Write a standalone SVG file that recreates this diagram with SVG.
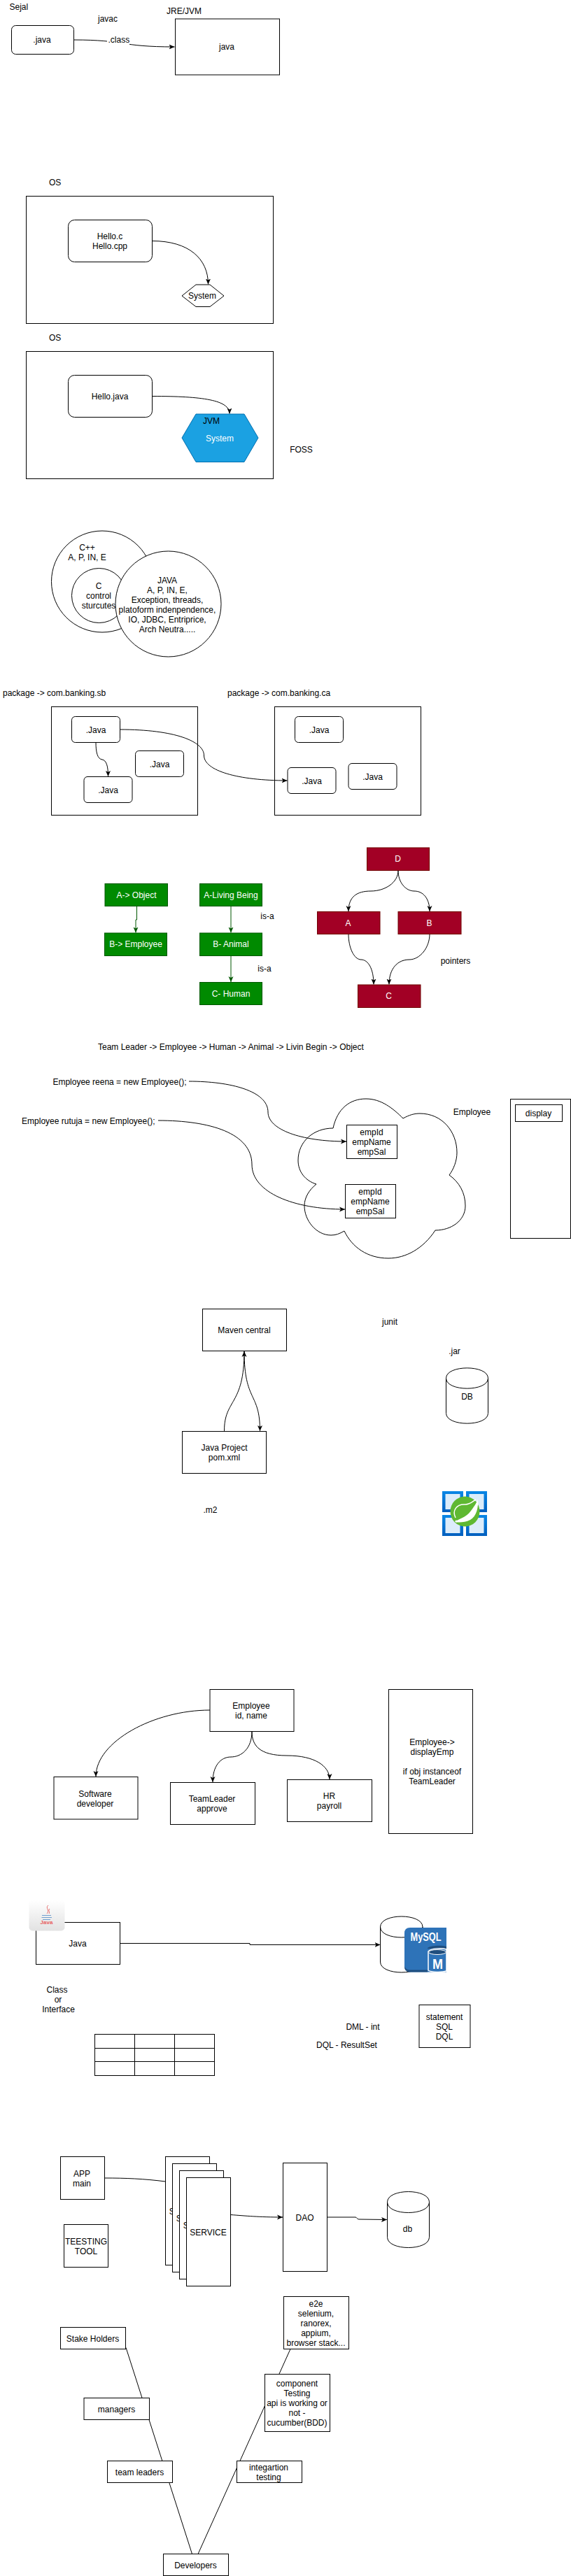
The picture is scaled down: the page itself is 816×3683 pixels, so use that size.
<svg xmlns="http://www.w3.org/2000/svg" width="816" height="3683" viewBox="0 0 816 3683">
<style>
text{font-family:"Liberation Sans",Arial,Helvetica,sans-serif;font-size:12px;fill:#000}
.m{text-anchor:middle}
.w{fill:#fff}
.b{fill:#fff;stroke:#000;stroke-width:1}
.n{fill:none;stroke:#000;stroke-width:1}
.c{fill:none;stroke:#000;stroke-width:1;marker-end:url(#arrow)}
.l{fill:none;stroke:#000;stroke-width:1}
.gc{fill:none;stroke:#005700;stroke-width:1;marker-end:url(#garrow)}
.g{fill:#008a00;stroke:#005700}
.r{fill:#a20025;stroke:#6f0000}
</style>
<defs>
<marker id="arrow" markerUnits="userSpaceOnUse" markerWidth="9" markerHeight="9" refX="8" refY="4" orient="auto"><path d="M0 .5L8 4L0 7.5L2 4Z" fill="#000"/></marker>
<marker id="garrow" markerUnits="userSpaceOnUse" markerWidth="9" markerHeight="9" refX="8" refY="4" orient="auto"><path d="M0 .5L8 4L0 7.5L2 4Z" fill="#005700"/></marker>
<linearGradient id="az" x1="0" y1="0" x2="0" y2="1"><stop offset="0" stop-color="#0a87e6"/><stop offset="1" stop-color="#005fbe"/></linearGradient>
<linearGradient id="jg" x1="0" y1="0" x2="0" y2="1"><stop offset="0" stop-color="#fff"/><stop offset="1" stop-color="#e2e2e2"/></linearGradient>
</defs>

<g id="connectors">
<path class="c" d="M105.5 57C180 57 170 67 249.5 67"/>
<path class="c" d="M217.5 344.500C270 344.500 297.500 370 297.500 406.500"/>
<path class="c" d="M217.500 566.500C290 566.500 328 572 328 591.500"/>
<path class="c" d="M137 1061.500C137 1075 139 1085 146 1086C152 1087 154.500 1095 154.500 1110"/>
<path class="c" d="M171.500 1043C250 1043 291.500 1060 291.500 1080C291.500 1102 340 1116 410.500 1116"/>
<path class="gc" d="M195.500 1295.500V1315H194V1333.500"/>
<path class="gc" d="M330 1295.500V1333.500"/>
<path class="gc" d="M330 1366.500V1404"/>
<path class="c" d="M569 1244.500C569 1262 550 1274 530 1274C510 1274 498 1282 498 1303"/>
<path class="c" d="M569 1244.500C569 1262 580 1274 592 1274C605 1274 614 1285 614 1303"/>
<path class="c" d="M498 1335.500C498 1355 506 1372 516 1372C526 1372 534 1385 534 1407.500"/>
<path class="c" d="M614 1335.500C614 1355 600 1372 585 1372C568 1372 556 1385 556 1407.500"/>
<path class="c" d="M270 1546C330 1546 383 1560 383 1590C383 1615 430 1632 495 1632"/>
<path class="c" d="M226 1602C300 1602 360 1620 360 1665C360 1705 420 1729 493 1729"/>
<path class="c" d="M320.500 2046C320.500 2000 349 2010 349 1932"/>
<path class="c" d="M349 1932C349 2005 371.500 1990 371.500 2046"/>
<path class="c" d="M300 2445C220 2445 137 2490 137 2540"/>
<path class="c" d="M360 2475.500C360 2500 345 2512 330 2512C315 2512 304 2525 304 2548"/>
<path class="c" d="M360 2475.500C360 2495 370 2510 410 2510C450 2510 471 2525 471 2544"/>
<path class="c" d="M171.500 2778.500H357V2780.500H543.500"/>
<path class="l" d="M149.500 3114C180 3114 205 3115 236.500 3119"/>
<path class="c" d="M329.500 3166.500C350 3168 370 3170 404 3170"/>
<path class="c" d="M467.500 3170H508C510 3170 510 3173 513 3173L553 3173.500"/>
<path class="l" d="M180 3356.500L274.500 3651.500"/>
<path class="l" d="M415 3358.500L283 3651.500"/>
</g>

<g id="n-sejal"><text x="13.500" y="14">Sejal</text></g>
<g id="n-javac"><text class="m" x="154" y="31">javac</text></g>
<g id="n-jre"><text x="238" y="20">JRE/JVM</text></g>
<g id="n-dotjava"><rect class="b" x="16.500" y="36.500" width="89" height="41" rx="6"/><text class="m" x="60" y="61">.java</text></g>
<g id="n-class"><rect x="153" y="50" width="32" height="14" fill="#fff"/><text x="154.500" y="61">.class</text></g>
<g id="n-jvm"><rect class="b" x="250.500" y="27" width="149" height="80"/><text class="m" x="324" y="71">java</text></g>

<g id="n-os1"><text x="70" y="265">OS</text><rect class="n" x="37.500" y="280.500" width="353" height="182"/></g>
<g id="n-hello"><rect class="b" x="97.500" y="314.500" width="120" height="60" rx="9"/><text class="m" x="157" y="342">Hello.c</text><text class="m" x="157" y="356">Hello.cpp</text></g>
<g id="n-system"><polygon class="b" points="260,423 280,407 300,407 320,423 300,438.500 280,438.500"/><text class="m" x="289" y="427">System</text></g>
<g id="n-os2"><text x="70" y="487">OS</text><rect class="n" x="37.500" y="502.500" width="353" height="182"/></g>
<g id="n-hellojava"><rect class="b" x="97.500" y="536.500" width="120" height="60" rx="9"/><text class="m" x="157" y="571">Hello.java</text></g>
<g id="n-jvmhex"><polygon points="260,626 280,592 349,592 369,626 349,660.500 280,660.500" fill="#1ba1e2" stroke="#006eaf"/><text class="m" x="302" y="606">JVM</text><text class="m w" x="314" y="631">System</text></g>
<g id="n-foss"><text class="m" x="430.500" y="647">FOSS</text></g>

<g id="n-cpp"><ellipse class="b" cx="146" cy="831.500" rx="72.500" ry="72.500"/><text class="m" x="124.500" y="787">C++</text><text class="m" x="124.500" y="801">A, P, IN, E</text></g>
<g id="n-c"><ellipse class="b" cx="141.500" cy="851.500" rx="39" ry="39"/><text class="m" x="141" y="842">C</text><text class="m" x="141" y="856">control</text><text class="m" x="141" y="870">sturcutes</text></g>
<g id="n-javac2"><ellipse class="b" cx="240.500" cy="863.500" rx="75.500" ry="75.500"/><text class="m" x="239" y="834">JAVA</text><text class="m" x="239" y="848">A, P, IN, E,</text><text class="m" x="239" y="862">Exception, threads,</text><text class="m" x="239" y="876">platoform indenpendence,</text><text class="m" x="239" y="890">IO, JDBC, Entriprice,</text><text class="m" x="239" y="904">Arch Neutra.....</text></g>

<g id="n-pkg1"><text x="4" y="995">package -&gt; com.banking.sb</text><rect class="n" x="73.500" y="1010.500" width="209" height="155"/></g>
<g id="n-pkg2"><text x="325" y="995">package -&gt; com.banking.ca</text><rect class="n" x="392.500" y="1010.500" width="209" height="155"/></g>
<g id="n-j1"><rect class="b" x="102.500" y="1024.500" width="69" height="37" rx="5"/><text class="m" x="137" y="1048">.Java</text></g>
<g id="n-j2"><rect class="b" x="193.500" y="1073.500" width="69" height="37" rx="5"/><text class="m" x="228" y="1097">.Java</text></g>
<g id="n-j3"><rect class="b" x="120" y="1110.500" width="69" height="37" rx="5"/><text class="m" x="154.500" y="1134">.Java</text></g>
<g id="n-j4"><rect class="b" x="421.500" y="1024.500" width="69" height="37" rx="5"/><text class="m" x="456" y="1048">.Java</text></g>
<g id="n-j5"><rect class="b" x="411" y="1097.500" width="69" height="37" rx="5"/><text class="m" x="445.500" y="1121">.Java</text></g>
<g id="n-j6"><rect class="b" x="498" y="1091.500" width="69" height="37" rx="5"/><text class="m" x="532.500" y="1115">.Java</text></g>

<g id="n-aobj"><rect class="g" x="150" y="1263.500" width="89.500" height="32"/><text class="m w" x="195" y="1284">A-&gt; Object</text></g>
<g id="n-bemp"><rect class="g" x="149.500" y="1334" width="89" height="32.500"/><text class="m w" x="194" y="1354">B-&gt; Employee</text></g>
<g id="n-aliv"><rect class="g" x="285.500" y="1263.500" width="89" height="32"/><text class="m w" x="330" y="1284">A-Living Being</text></g>
<g id="n-banim"><rect class="g" x="285.500" y="1334" width="89" height="32.500"/><text class="m w" x="330" y="1354">B- Animal</text></g>
<g id="n-chum"><rect class="g" x="285.500" y="1404.500" width="89" height="32"/><text class="m w" x="330" y="1425">C- Human</text></g>
<g id="n-isa1"><text class="m" x="382" y="1314">is-a</text></g>
<g id="n-isa2"><text class="m" x="378" y="1389">is-a</text></g>

<g id="n-d"><rect class="r" x="524.500" y="1212" width="89" height="32.500"/><text class="m w" x="568.500" y="1232">D</text></g>
<g id="n-a"><rect class="r" x="453.500" y="1303.500" width="89.500" height="32"/><text class="m w" x="497.500" y="1323.500">A</text></g>
<g id="n-b"><rect class="r" x="569" y="1303.500" width="90" height="32"/><text class="m w" x="613.500" y="1323.500">B</text></g>
<g id="n-cc"><rect class="r" x="511.500" y="1408" width="89.500" height="32.500"/><text class="m w" x="555.500" y="1428">C</text></g>
<g id="n-pointers"><text class="m" x="651" y="1378">pointers</text></g>

<g id="n-chain"><text x="140" y="1501">Team Leader -&gt; Employee -&gt; Human -&gt; Animal -&gt; Livin Begin -&gt; Object</text></g>
<g id="n-reena"><text text-anchor="end" x="266.500" y="1551">Employee reena = new Employee();</text></g>
<g id="n-rutuja"><text text-anchor="end" x="221.500" y="1607">Employee rutuja = new Employee();</text></g>
<g id="n-cloud"><path class="n" d="M476 1613C482 1585 500 1571 523 1571C545 1571 562 1585 576 1599C585 1594 592 1592 600 1592C632 1592 653 1618 653 1648C653 1660 648 1672 642 1680C656 1690 665 1705 665 1724C665 1745 645 1759 622 1759C605 1785 580 1799 555 1799C525 1799 503 1783 492 1760C485 1764 480 1766 473 1766C452 1766 435 1745 435 1724C435 1712 442 1701 452 1693C436 1688 426 1675 426 1659C426 1632 448 1613 476 1613Z"/></g>
<g id="n-emp1"><rect class="b" x="495.500" y="1608.500" width="72" height="48"/><text class="m" x="531" y="1623">empId</text><text class="m" x="531" y="1637">empName</text><text class="m" x="531" y="1651">empSal</text></g>
<g id="n-emp2"><rect class="b" x="493.500" y="1693.500" width="72" height="48"/><text class="m" x="529" y="1708">empId</text><text class="m" x="529" y="1722">empName</text><text class="m" x="529" y="1736">empSal</text></g>
<g id="n-empl"><text class="m" x="674.500" y="1593.500">Employee</text></g>
<g id="n-rbox"><rect class="b" x="729.500" y="1571.500" width="86" height="199"/><rect class="b" x="736.500" y="1579.500" width="67" height="24"/><text class="m" x="769.500" y="1595.500">display</text></g>

<g id="n-maven"><rect class="b" x="289.500" y="1871.500" width="120" height="60"/><text class="m" x="349" y="1906">Maven central</text></g>
<g id="n-junit"><text class="m" x="557" y="1894">junit</text></g>
<g id="n-jar"><text class="m" x="649.500" y="1936">.jar</text></g>
<g id="n-db1"><path class="b" d="M637.500 1970.500C637.500 1951 697.500 1951 697.500 1970.500V2020.500C697.500 2040 637.500 2040 637.500 2020.500Z"/><path class="n" d="M637.500 1970.500C637.500 1990 697.500 1990 697.500 1970.500"/><text class="m" x="667.500" y="2001">DB</text></g>
<g id="n-proj"><rect class="b" x="260.500" y="2046.500" width="120" height="60"/><text class="m" x="320.500" y="2074">Java Project</text><text class="m" x="320.500" y="2088">pom.xml</text></g>
<g id="n-m2"><text class="m" x="300.500" y="2163">.m2</text></g>
<g id="n-spring">
<rect x="632" y="2132" width="30" height="30" fill="url(#az)"/><rect x="666" y="2132" width="30" height="30" fill="url(#az)"/><rect x="632" y="2166" width="30" height="30" fill="url(#az)"/><rect x="666" y="2166" width="30" height="30" fill="url(#az)"/>
<rect x="636.500" y="2136" width="21" height="22" fill="#dcecfa"/><rect x="670.500" y="2136" width="21" height="22" fill="#dcecfa"/><rect x="636.500" y="2170" width="21" height="22" fill="#dcecfa"/><rect x="670.500" y="2170" width="21" height="22" fill="#dcecfa"/>
<ellipse cx="664.500" cy="2161" rx="21" ry="21.500" fill="#5fb832"/>
<path d="M650 2176C654 2172 666 2170 673 2160C679 2152 682 2147 683 2143C684 2155 681 2168 672 2173C664 2177 656 2177 650 2176Z" fill="#fff"/>
<path d="M651 2170C646 2160 652 2150 665 2151C672 2151 675 2147 680 2144" fill="none" stroke="#fff" stroke-width="1.500"/>
<circle cx="652" cy="2175" r="1.500" fill="#fff"/>
</g>

<g id="n-employee"><rect class="b" x="300" y="2415.500" width="120" height="60"/><text class="m" x="359" y="2443">Employee</text><text class="m" x="359" y="2457">id, name</text></g>
<g id="n-disp"><rect class="b" x="555.500" y="2415.500" width="120" height="206"/><text class="m" x="617.500" y="2495">Employee-&gt;</text><text class="m" x="617.500" y="2509">displayEmp</text><text class="m" x="617.500" y="2537">if obj instanceof</text><text class="m" x="617.500" y="2551">TeamLeader</text></g>
<g id="n-sw"><rect class="b" x="77" y="2540.500" width="120" height="60.500"/><text class="m" x="136" y="2568.500">Software</text><text class="m" x="136" y="2582.500">developer</text></g>
<g id="n-tl"><rect class="b" x="243.500" y="2548.500" width="121" height="60"/><text class="m" x="303" y="2576">TeamLeader</text><text class="m" x="303" y="2590">approve</text></g>
<g id="n-hr"><rect class="b" x="410.500" y="2544.500" width="121" height="60"/><text class="m" x="470.500" y="2572">HR</text><text class="m" x="470.500" y="2586">payroll</text></g>

<g id="n-java"><rect class="b" x="51.500" y="2748.500" width="120" height="60"/><text class="m" x="111" y="2783">Java</text></g>
<g id="n-javaicon"><rect x="41.500" y="2716.500" width="51" height="44" rx="5" fill="url(#jg)"/>
<path d="M69 2724C64 2728 72 2731 67 2736M71 2729C68 2732 72 2733 70 2736" fill="none" stroke="#e76f6f" stroke-width="1"/>
<path d="M60 2738.500H73M59.500 2741.500H74M61 2744.500H72" fill="none" stroke="#6f9fd0" stroke-width="1"/>
<text class="m" x="66.500" y="2751" style="font-size:8px;font-weight:bold;fill:#e76060">Java</text></g>
<g id="n-mysqldb"><path class="b" d="M543.500 2755C543.500 2735 604 2735 604 2755V2805C604 2825 543.500 2825 543.500 2805Z"/><path class="n" d="M543.500 2755C543.500 2775 604 2775 604 2755"/></g>
<g id="n-mysql"><path d="M586 2756H638V2819.500H586Q578 2819.500 578 2811V2764Q578 2756 586 2756Z" fill="#2e73b8"/><path d="M578 2811Q578 2819.500 586 2819.500H611V2816.500H586Q580 2816.500 578 2811Z" fill="#1f4e7e"/>
<text class="m w" x="608.500" y="2775" style="font-size:16px;font-weight:bold" textLength="44" lengthAdjust="spacingAndGlyphs">MySQL</text>
<path d="M611 2785C616 2781 632 2781 638 2783V2786H611Z" fill="#1f4e7e"/>
<path d="M612 2790V2817C616 2820 632 2820 638 2818V2787C632 2785 616 2785 612 2790Z" fill="#2e73b8" stroke="#fff" stroke-width="1.500"/>
<ellipse cx="625" cy="2791" rx="12.500" ry="3.500" fill="#1f4e7e" stroke="#fff"/>
<text class="m w" x="625.500" y="2815" style="font-size:20px;font-weight:bold" textLength="15" lengthAdjust="spacingAndGlyphs">M</text></g>

<g id="n-classif"><text class="m" x="81.500" y="2849">Class</text><text class="m" x="83" y="2863">or</text><text class="m" x="83.500" y="2877">Interface</text></g>
<g id="n-table"><rect class="b" x="135.500" y="2908.500" width="171" height="59"/><path class="n" d="M192.500 2908.500V2967.500M249.500 2908.500V2967.500M135.500 2928.500H306.500M135.500 2947.500H306.500"/></g>
<g id="n-dml"><text class="m" x="518.500" y="2902">DML - int</text></g>
<g id="n-dql"><text class="m" x="495.500" y="2928">DQL - ResultSet</text></g>
<g id="n-stmt"><rect class="b" x="599" y="2866.500" width="73" height="61"/><text class="m" x="635" y="2888">statement</text><text class="m" x="635" y="2902">SQL</text><text class="m" x="635" y="2916">DQL</text></g>

<g id="n-app"><rect class="b" x="86.500" y="3083.500" width="63" height="61"/><text class="m" x="117" y="3112">APP</text><text class="m" x="117" y="3126">main</text></g>
<g id="n-test"><rect class="b" x="91.500" y="3180.500" width="63" height="61"/><text class="m" x="123" y="3209">TEESTING</text><text class="m" x="123" y="3223">TOOL</text></g>
<g id="n-s1"><rect class="b" x="236.500" y="3083.500" width="63" height="155"/><text class="m" x="268" y="3166">SERVICE</text></g>
<g id="n-s2"><rect class="b" x="246.500" y="3093.500" width="63" height="155"/><text class="m" x="278" y="3176">SERVICE</text></g>
<g id="n-s3"><rect class="b" x="256.500" y="3103.500" width="63" height="155"/><text class="m" x="288" y="3186">SERVICE</text></g>
<g id="n-s4"><rect class="b" x="266.500" y="3113.500" width="63" height="155"/><text class="m" x="297.500" y="3196">SERVICE</text></g>
<g id="n-dao"><rect class="b" x="404.500" y="3092.500" width="63" height="155"/><text class="m" x="435.500" y="3175">DAO</text></g>
<g id="n-dbb"><path class="b" d="M553.500 3148.500C553.500 3128.500 613.500 3128.500 613.500 3148.500V3198.500C613.500 3218.500 553.500 3218.500 553.500 3198.500Z"/><path class="n" d="M553.500 3148.500C553.500 3168.500 613.500 3168.500 613.500 3148.500"/><text class="m" x="582.500" y="3191">db</text></g>

<g id="n-e2e"><rect class="b" x="405.500" y="3283.500" width="93" height="75"/><text class="m" x="451.500" y="3298">e2e</text><text class="m" x="451.500" y="3312">selenium,</text><text class="m" x="451.500" y="3326">ranorex,</text><text class="m" x="451.500" y="3340">appium,</text><text class="m" x="451.500" y="3354">browser stack...</text></g>
<g id="n-comp"><rect class="b" x="378.500" y="3394.500" width="93" height="82"/><text class="m" x="424.500" y="3412">component</text><text class="m" x="424.500" y="3426">Testing</text><text class="m" x="424.500" y="3440">api is working or</text><text class="m" x="424.500" y="3454">not -</text><text class="m" x="424.500" y="3468">cucumber(BDD)</text></g>
<g id="n-integ"><rect class="b" x="338.500" y="3518.500" width="93" height="31"/><text class="m" x="384" y="3532">integartion</text><text class="m" x="384" y="3546">testing</text></g>
<g id="n-stake"><rect class="b" x="86.500" y="3327.500" width="93" height="31"/><text class="m" x="132.500" y="3348">Stake Holders</text></g>
<g id="n-mgr"><rect class="b" x="120" y="3428.500" width="93.500" height="31"/><text class="m" x="166.500" y="3449">managers</text></g>
<g id="n-tlead"><rect class="b" x="153.500" y="3518.500" width="93" height="31"/><text class="m" x="199.500" y="3539">team leaders</text></g>
<g id="n-dev"><rect class="b" x="233.500" y="3651.500" width="93" height="31"/><text class="m" x="279.500" y="3672">Developers</text></g>
</svg>
